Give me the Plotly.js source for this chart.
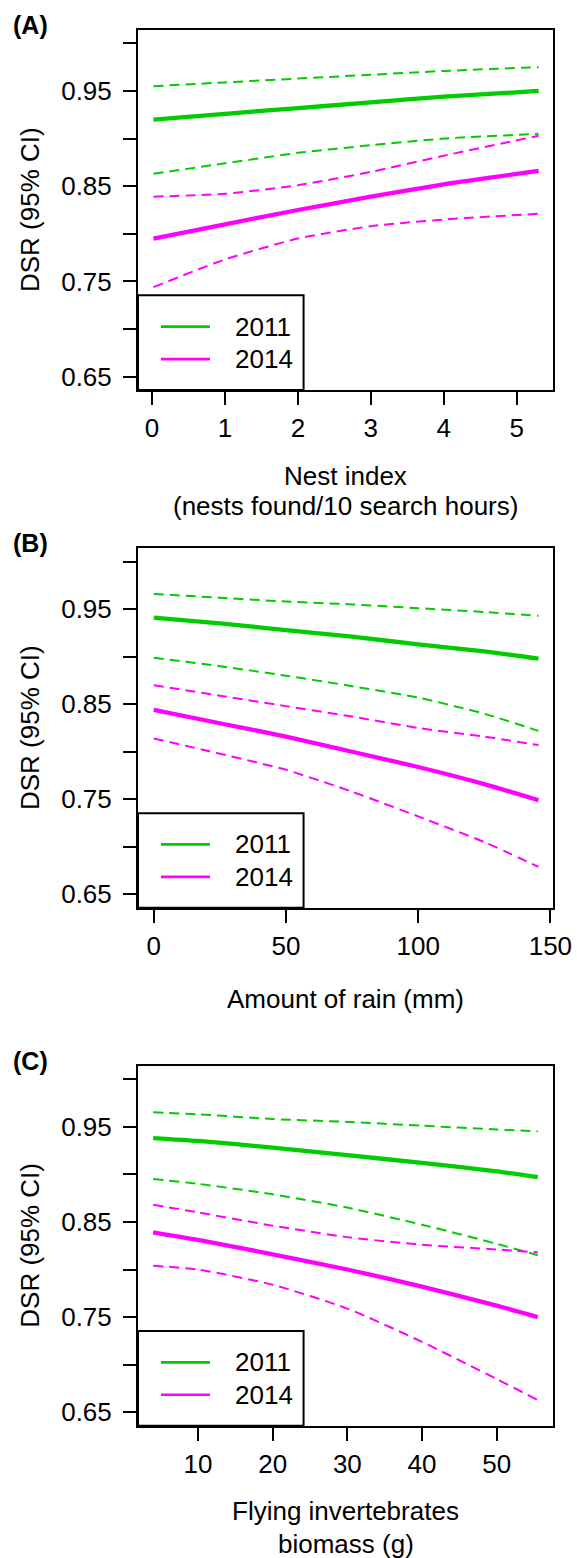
<!DOCTYPE html>
<html>
<head>
<meta charset="utf-8">
<script src="https://cdn.plot.ly/plotly-3.0.1.min.js"></script>
<style>html,body{margin:0;padding:0;background:#fff;}#chart{width:577px;height:1558px;}</style>
</head>
<body>
<div id="chart"></div>
<script>
// ---- Panel A: Nest index ----
const nestX        = [0.02, 1, 2, 3, 4, 5.3];
const nest2011Fit  = [0.920, 0.926, 0.932, 0.938, 0.944, 0.950];
const nest2011Hi   = [0.955, 0.959, 0.963, 0.967, 0.971, 0.975];
const nest2011Lo   = [0.863, 0.874, 0.885, 0.893, 0.900, 0.905];
const nest2014Fit  = [0.795, 0.810, 0.825, 0.839, 0.852, 0.866];
const nest2014Hi   = [0.839, 0.842, 0.851, 0.865, 0.882, 0.903];
const nest2014Lo   = [0.744, 0.773, 0.795, 0.808, 0.815, 0.821];

// ---- Panel B: Amount of rain ----
const rainX        = [0, 25, 50, 75, 100, 125, 145.5];
const rain2011Fit  = [0.941, 0.935, 0.928, 0.921, 0.913, 0.9055, 0.898];
const rain2011Hi   = [0.966, 0.962, 0.958, 0.955, 0.951, 0.947, 0.943];
const rain2011Lo   = [0.899, 0.890, 0.880, 0.869, 0.857, 0.840, 0.822];
const rain2014Fit  = [0.844, 0.830, 0.816, 0.800, 0.784, 0.766, 0.749];
const rain2014Hi   = [0.870, 0.859, 0.848, 0.837, 0.825, 0.816, 0.807];
const rain2014Lo   = [0.814, 0.798, 0.781, 0.758, 0.732, 0.705, 0.679];

// ---- Panel C: Flying invertebrates biomass ----
const bioX         = [4, 10, 20, 30, 40, 50, 55.5];
const bio2011Fit   = [0.938, 0.935, 0.928, 0.920, 0.912, 0.903, 0.897];
const bio2011Hi    = [0.965, 0.963, 0.958, 0.955, 0.951, 0.947, 0.945];
const bio2011Lo    = [0.895, 0.890, 0.879, 0.865, 0.847, 0.827, 0.815];
const bio2014Fit   = [0.839, 0.831, 0.816, 0.800, 0.782, 0.762, 0.750];
const bio2014Hi    = [0.868, 0.860, 0.846, 0.834, 0.826, 0.821, 0.818];
const bio2014Lo    = [0.804, 0.800, 0.784, 0.759, 0.724, 0.685, 0.663];

// ---- Axis ticks / labels ----
const yTickVals  = [0.65, 0.70, 0.75, 0.80, 0.85, 0.90, 0.95, 1.00];
const yTickText  = ['0.65', '', '0.75', '', '0.85', '', '0.95', ''];
const nestTicks  = [0, 1, 2, 3, 4, 5];
const rainTicks  = [0, 50, 100, 150];
const bioTicks   = [10, 20, 30, 40, 50];
const years      = ['2011', '2014'];
const panelLabels = ['(A)', '(B)', '(C)'];
const yTitle     = 'DSR (95% CI)';
const xTitles    = [['Nest index', '(nests found/10 search hours)'], ['Amount of rain (mm)'], ['Flying invertebrates', 'biomass (g)']];

const GREEN = '#00CC00', MAGENTA = '#FF00FF';
const FONT = 'Liberation Sans, Arial, Helvetica, sans-serif';
const W = 577, H = 1558;

const panels = [
  {x: nestX, s: [[nest2011Fit, nest2011Hi, nest2011Lo], [nest2014Fit, nest2014Hi, nest2014Lo]],
   xr: [-0.192, 5.497], ticks: nestTicks, top: 30, bottom: 390, labelY: 25, titleY: [476, 506]},
  {x: rainX, s: [[rain2011Fit, rain2011Hi, rain2011Lo], [rain2014Fit, rain2014Hi, rain2014Lo]],
   xr: [-5.95, 151.0], ticks: rainTicks, top: 548.3, bottom: 907.7, labelY: 543, titleY: [999]},
  {x: bioX, s: [[bio2011Fit, bio2011Hi, bio2011Lo], [bio2014Fit, bio2014Hi, bio2014Lo]],
   xr: [1.97, 57.54], ticks: bioTicks, top: 1065.7, bottom: 1425.7, labelY: 1060.7, titleY: [1511, 1544]}
];

const traces = [];
const layout = {
  width: W, height: H, margin: {l: 0, r: 0, t: 0, b: 0},
  paper_bgcolor: '#fff', plot_bgcolor: '#fff', showlegend: false,
  font: {family: FONT, size: 26, color: '#000'},
  shapes: [], annotations: []
};
const xDom = [138 / W, 553 / W];
const colors = [GREEN, MAGENTA];

panels.forEach((p, i) => {
  const n = i + 1;
  const xa = 'x' + (n === 1 ? '' : n), ya = 'y' + (n === 1 ? '' : n);
  const xKey = 'xaxis' + (n === 1 ? '' : n), yKey = 'yaxis' + (n === 1 ? '' : n);
  p.s.forEach((set, k) => {
    const c = colors[k];
    traces.push({x: p.x, y: set[1], xaxis: xa, yaxis: ya, mode: 'lines', line: {color: c, width: 2, dash: '10px,6px', shape: 'spline', smoothing: 0.6}, hoverinfo: 'skip'});
    traces.push({x: p.x, y: set[2], xaxis: xa, yaxis: ya, mode: 'lines', line: {color: c, width: 2, dash: '10px,6px', shape: 'spline', smoothing: 0.6}, hoverinfo: 'skip'});
    traces.push({x: p.x, y: set[0], xaxis: xa, yaxis: ya, mode: 'lines', line: {color: c, width: 4.3, shape: 'spline', smoothing: 0.6}, hoverinfo: 'skip'});
  });
  const yDom = [1 - p.bottom / H, 1 - p.top / H];
  layout[xKey] = {
    domain: xDom, anchor: ya, range: p.xr, tickvals: p.ticks, ticktext: p.ticks.map(String),
    showline: true, mirror: true, linecolor: '#000', linewidth: 2,
    ticks: 'outside', ticklen: 13, tickwidth: 2, tickcolor: '#000', ticklabelstandoff: 1,
    showgrid: false, zeroline: false, tickfont: {size: 26, family: FONT, color: '#000'}, fixedrange: true
  };
  layout[yKey] = {
    domain: yDom, anchor: xa, range: [0.636, 1.014], tickvals: yTickVals, ticktext: yTickText,
    showline: true, mirror: true, linecolor: '#000', linewidth: 2,
    ticks: 'outside', ticklen: 13, tickwidth: 2, tickcolor: '#000', ticklabelstandoff: 6,
    showgrid: false, zeroline: false, tickfont: {size: 26, family: FONT, color: '#000'}, fixedrange: true
  };
  // legend box
  layout.shapes.push({type: 'rect', xref: xa + ' domain', yref: ya + ' domain', x0: 0, x1: 0.399, y0: 0, y1: 0.263,
    line: {color: '#000', width: 2}, fillcolor: '#fff', layer: 'above'});
  const ly = [0.176, 0.086];
  years.forEach((yr, k) => {
    layout.shapes.push({type: 'line', xref: xa + ' domain', yref: ya + ' domain', x0: 0.0554, x1: 0.1735, y0: ly[k], y1: ly[k],
      line: {color: colors[k], width: 2.7}, layer: 'above'});
    layout.annotations.push({xref: xa + ' domain', yref: ya + ' domain', x: 0.229, y: ly[k], xanchor: 'left', yanchor: 'middle',
      text: yr, showarrow: false, font: {size: 26, family: FONT, color: '#000'}});
  });
  // panel label
  layout.annotations.push({xref: 'paper', yref: 'paper', x: 11 / W, y: 1 - p.labelY / H, xanchor: 'left', yanchor: 'middle',
    text: '<b>' + panelLabels[i] + '</b>', showarrow: false, font: {size: 25, family: FONT, color: '#000'}});
  // y title
  layout.annotations.push({xref: 'paper', yref: 'paper', x: 30 / W, y: (yDom[0] + yDom[1]) / 2, xanchor: 'center', yanchor: 'middle',
    textangle: -90, text: yTitle, showarrow: false, font: {size: 26, family: FONT, color: '#000'}});
  // x title lines
  xTitles[i].forEach((t, k) => {
    layout.annotations.push({xref: 'paper', yref: 'paper', x: (xDom[0] + xDom[1]) / 2, y: 1 - p.titleY[k] / H, xanchor: 'center', yanchor: 'middle',
      text: t, showarrow: false, font: {size: 26, family: FONT, color: '#000'}});
  });
});

Plotly.newPlot('chart', traces, layout, {staticPlot: true, displayModeBar: false});
</script>
</body>
</html>
